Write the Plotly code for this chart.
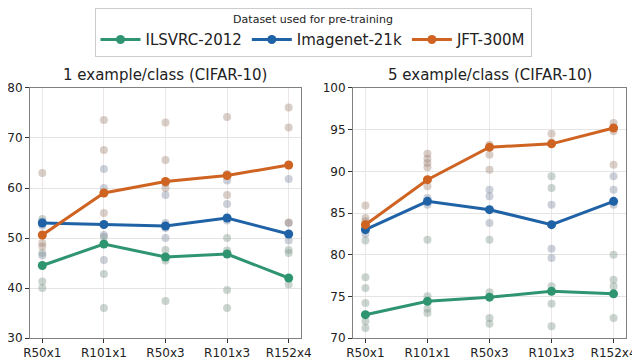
import plotly.graph_objects as go

# categories (model sizes)
models = ["R50x1", "R101x1", "R50x3", "R101x3", "R152x4"]
datasets = ["ILSVRC-2012", "Imagenet-21k", "JFT-300M"]

# mean accuracy lines
one_shot = {
    "ILSVRC-2012": [44.5, 48.8, 46.2, 46.8, 42.0],
    "Imagenet-21k": [53.0, 52.7, 52.4, 54.0, 50.8],
    "JFT-300M": [50.6, 59.0, 61.3, 62.5, 64.6],
}
five_shot = {
    "ILSVRC-2012": [72.8, 74.4, 74.9, 75.6, 75.3],
    "Imagenet-21k": [83.0, 86.4, 85.4, 83.6, 86.4],
    "JFT-300M": [83.6, 89.0, 92.9, 93.3, 95.2],
}

# individual runs, one list per model
one_shot_runs_ilsvrc = [[53.8, 41.3, 40.0, 47.0], [50.2, 42.8, 36.0], [47.6, 45.5, 37.4],
                        [50.0, 47.5, 39.6, 36.0], [47.6, 47.0, 40.7]]
one_shot_runs_in21k = [[53.3, 52.5, 46.5], [63.8, 60.0, 45.6, 50.6], [58.6, 50.0, 53.0, 52.0],
                       [61.5, 56.8, 53.5], [61.8, 49.5, 53.0]]
one_shot_runs_jft = [[63.0, 49.0, 48.3], [73.6, 67.6, 55.0, 59.0], [73.1, 65.6, 60.0, 61.0],
                     [74.2, 58.6, 62.8], [76.1, 72.1, 53.1, 64.5]]

five_shot_runs_ilsvrc = [[81.7, 77.3, 76.0, 74.2, 72.0, 71.2], [81.8, 75.0, 73.5, 73.0],
                         [81.8, 75.5, 72.4, 71.7], [89.4, 88.0, 76.2, 74.1, 71.4],
                         [80.0, 77.0, 76.2, 72.4]]
five_shot_runs_in21k = [[82.5, 83.3], [86.0, 86.8], [87.8, 87.0, 83.8],
                        [80.7, 79.6, 86.0], [87.8, 86.0, 89.4]]
five_shot_runs_jft = [[85.9, 84.4, 84.0], [92.1, 91.5, 91.0, 90.5, 88.2], [92.0, 90.2, 93.2],
                      [94.5, 93.5], [95.8, 94.8, 90.8]]

colors = {"ILSVRC-2012": "#2f9571", "Imagenet-21k": "#1f62a6", "JFT-300M": "#cf6321"}
run_colors = {"ILSVRC-2012": "rgba(125,150,138,0.4)",
              "Imagenet-21k": "rgba(125,138,160,0.4)",
              "JFT-300M": "rgba(160,132,118,0.4)"}

runs_1 = {"ILSVRC-2012": one_shot_runs_ilsvrc, "Imagenet-21k": one_shot_runs_in21k,
          "JFT-300M": one_shot_runs_jft}
runs_5 = {"ILSVRC-2012": five_shot_runs_ilsvrc, "Imagenet-21k": five_shot_runs_in21k,
          "JFT-300M": five_shot_runs_jft}


def flatten(runs):
    xs, ys = [], []
    for m, vals in zip(models, runs):
        xs += [m] * len(vals)
        ys += vals
    return xs, ys


fig = go.Figure()

for xa, ya, runs in [("x", "y", runs_1), ("x2", "y2", runs_5)]:
    for d in datasets:
        xs, ys = flatten(runs[d])
        fig.add_trace(go.Scatter(
            x=xs, y=ys, mode="markers", showlegend=False, hoverinfo="skip",
            xaxis=xa, yaxis=ya,
            marker=dict(size=8, color=run_colors[d]),
        ))

for xa, ya, means in [("x", "y", one_shot), ("x2", "y2", five_shot)]:
    for d in datasets:
        fig.add_trace(go.Scatter(
            x=models, y=means[d], mode="lines+markers", name=d,
            showlegend=(xa == "x"), xaxis=xa, yaxis=ya,
            line=dict(color=colors[d], width=3),
            marker=dict(size=9, color=colors[d]),
        ))

axis_style = dict(
    showline=True, linecolor="#808080", linewidth=1, mirror=True,
    showgrid=True, gridcolor="#e4e4e4", gridwidth=1,
    ticks="outside", ticklen=4, tickcolor="#333", automargin=False,
    tickfont=dict(size=12, color="#222"), zeroline=False,
)
xstyle = dict(axis_style, gridcolor="#ece6e6", range=[-0.2, 4.2],
              categoryorder="array", categoryarray=models)

# page body adds an 8px offset, so the figure is 8px smaller on each axis
fig.update_layout(
    width=632, height=356,
    margin=dict(l=0, r=0, t=0, b=0),
    paper_bgcolor="white", plot_bgcolor="white",
    font=dict(family="DejaVu Sans", color="#222"),
    xaxis=dict(xstyle, domain=[0.0348, 0.4636], anchor="y"),
    yaxis=dict(axis_style, domain=[0.0730, 0.7753], range=[30, 80], dtick=10, anchor="x"),
    xaxis2=dict(xstyle, domain=[0.5459, 0.9778], anchor="y2"),
    yaxis2=dict(axis_style, domain=[0.0730, 0.7753], range=[70, 100], dtick=5, anchor="x2"),
    legend=dict(
        orientation="h", x=0.4826, xanchor="center", y=1.0, yanchor="top",
        title=dict(text="Dataset used for pre-training", side="top center",
                   font=dict(size=11)),
        font=dict(size=15), bordercolor="#cccccc", borderwidth=1,
        itemwidth=40,
    ),
)

for xc, title in [(0.2492, "1 example/class (CIFAR-10)"), (0.7619, "5 example/class (CIFAR-10)")]:
    fig.add_annotation(x=xc, y=0.811, xref="paper", yref="paper",
                       xanchor="center", yanchor="middle",
                       text=title, showarrow=False, font=dict(size=15, color="#222"))

fig.write_html("out.html")
